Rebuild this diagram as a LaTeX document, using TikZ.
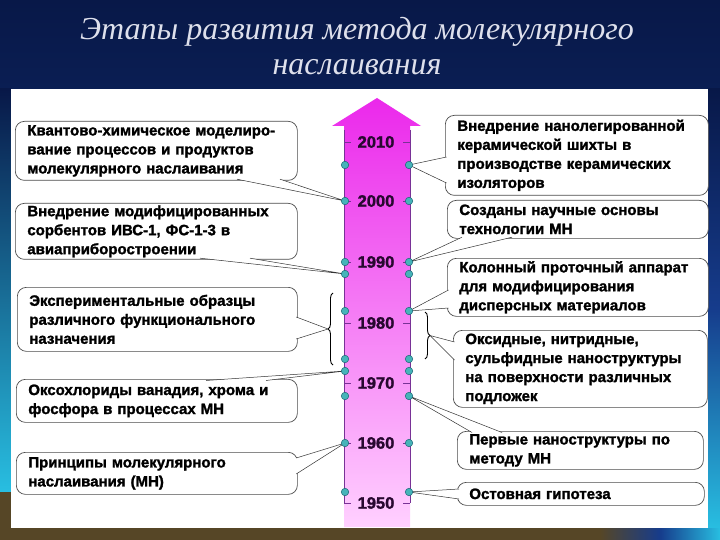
\documentclass[tikz,border=0pt]{standalone}
\usepackage{fontspec}
\usetikzlibrary{calc,decorations.pathreplacing}
\setmainfont{Liberation Sans}
\newfontfamily\boxfont{Liberation Sans}[BoldFeatures={FakeBold=1.6}]
\newfontfamily\yearfont{Liberation Sans}[BoldFeatures={FakeBold=1.6}]
\newfontfamily\titlefont{Liberation Serif}
\definecolor{navy}{RGB}{8,24,72}
\definecolor{bgmid}{RGB}{22,60,140}
\definecolor{bgcyan}{RGB}{40,190,225}
\definecolor{bgbrown}{RGB}{86,70,38}
\definecolor{titlegray}{RGB}{222,224,236}
\definecolor{magtop}{RGB}{235,40,235}
\definecolor{magbot}{RGB}{255,208,255}
\definecolor{axispurple}{RGB}{120,50,150}
\definecolor{yearink}{RGB}{40,8,48}
\definecolor{dotfill}{RGB}{70,180,185}
\definecolor{dotline}{RGB}{25,100,115}
\tikzset{
  infobox/.style={draw=black!70, line width=0.7pt, fill=white, rounded corners=9pt,
    anchor=north west, inner xsep=12pt, inner ysep=2pt, align=left,
    font=\boxfont\bfseries\fontsize{15}{19}\selectfont},
  dotnode/.style={circle, fill=dotfill, draw=dotline, line width=0.5pt, inner sep=0pt, minimum size=7.5pt},
  yearlabel/.style={font=\yearfont\bfseries\fontsize{16.5}{16.5}\selectfont, text=yearink, inner sep=0pt},
  tailline/.style={draw=black!80, line width=0.5pt},
  bracestyle/.style={draw=black, line width=0.9pt, decorate, decoration={brace, amplitude=5pt}}
}
\newcommand\calltail[3]{\fill[white] (#1) -- (#2) -- (#3) -- cycle; \draw[tailline] (#1) -- (#2) -- (#3);}
\begin{document}
\begin{tikzpicture}[x=1pt,y=-1pt]
\useasboundingbox (0,0) rectangle (720,540);
% background
\shade[top color=navy, bottom color=bgmid] (0,0) rectangle (720,540);
\shade[top color=navy, bottom color=bgcyan] (0,89) rectangle (11,492);
\fill[bgbrown] (0,492) rectangle (11,540);
\shade[top color=navy, bottom color=bgcyan, middle color=bgmid] (708,89) rectangle (720,528);
\fill[bgbrown] (0,528) rectangle (600,540);
\shade[left color=bgbrown, right color=bgcyan, middle color=bgmid] (600,528) rectangle (720,540);
% title
\node[font=\titlefont\itshape\fontsize{32}{36}\selectfont, text=titlegray, align=center, anchor=base] (title1) at (357,40) {Этапы развития метода молекулярного};
\node[font=\titlefont\itshape\fontsize{32}{36}\selectfont, text=titlegray, align=center, anchor=base] (title2) at (357,75) {наслаивания};
% panel
\fill[white] (11,89) rectangle (708,528);
% arrow
\shade[top color=magtop, bottom color=magbot]
  (344,527) -- (344,126) -- (332,126) -- (377,98) -- (421,126) -- (410,126) -- (410,527) -- cycle;
% boxes left
\node[infobox, text width=258pt, minimum height=59pt] (L1) at (15,121)
  {Квантово-химическое моделиро-\\вание процессов и продуктов\\молекулярного наслаивания};
\node[infobox, text width=258pt, minimum height=55pt] (L2) at (15,203)
  {Внедрение модифицированных\\сорбентов ИВС-1, ФС-1-3 в\\авиаприборостроении};
\node[infobox, text width=256pt, minimum height=64pt] (L3) at (17,287)
  {Экспериментальные образцы\\различного функционального\\назначения};
\node[infobox, text width=257pt, minimum height=43pt] (L4) at (16,379)
  {Оксохлориды ванадия, хрома и\\фосфора в процессах МН};
\node[infobox, text width=257pt, minimum height=42pt] (L5) at (16,452)
  {Принципы молекулярного\\наслаивания (МН)};
% boxes right
\node[infobox, text width=239pt, minimum height=80pt] (R1) at (445,115)
  {Внедрение нанолегированной\\керамической шихты в\\производстве керамических\\изоляторов};
\node[infobox, text width=237pt, minimum height=38pt] (R2) at (447,200)
  {Созданы научные основы\\технологии МН};
\node[infobox, text width=237pt, minimum height=58pt] (R3) at (447,258)
  {Колонный проточный аппарат\\для модифицирования\\дисперсных материалов};
\node[infobox, text width=230pt, minimum height=77pt] (R4) at (453,330)
  {Оксидные, нитридные,\\сульфидные наноструктуры\\на поверхности различных\\подложек};
\node[infobox, text width=222pt, minimum height=38pt] (R5) at (457,431)
  {Первые наноструктуры по\\методу МН};
\node[infobox, text width=223pt, minimum height=23pt] (R6) at (457,482)
  {Остовная гипотеза};
% axis lines and ticks
\draw[axispurple, line width=0.7pt] (344,130) -- (344,503);
\draw[axispurple, line width=0.7pt] (410,130) -- (410,503);
% year labels
\foreach \yr/\yy in {2010/142,2000/201,1990/262,1980/323,1970/383,1960/443,1950/503}{
  \node[yearlabel] (y\yr) at (376,\yy) {\yr};
  \draw[axispurple, line width=0.8pt] (344,\yy) -- (351,\yy);
  \draw[axispurple, line width=0.8pt] (403,\yy) -- (410,\yy);
}
% dots
\foreach \i/\yy in {1/165,2/201,3/262,4/274,5/311,6/359,7/371,8/396,9/443,10/492}{
  \coordinate (lp\i) at (345,\yy);
  \coordinate (rp\i) at (409,\yy);
}
% braces
\draw[bracestyle] (333,365) -- (333,293);
\coordinate (lbrace) at (328,329);
\draw[bracestyle] (425,312) -- (425,359);
\coordinate (rbrace) at (430,335.5);
% tails
\calltail{$(L1.south west)+(222,-1.5)$}{lp2}{$(L1.south west)+(265,-1.5)$}
\calltail{$(L2.south west)+(185,-1.5)$}{lp4}{$(L2.south west)+(235,-1.5)$}
\calltail{$(L3.north east)+(-1.5,30)$}{lbrace}{$(L3.north east)+(-1.5,52)$}
\calltail{$(L4.north west)+(190,1.5)$}{lp7}{$(L4.north west)+(250,1.5)$}
\calltail{$(L5.north east)+(-1.5,6)$}{lp9}{$(L5.north east)+(-1.5,22)$}
\calltail{$(R1.north west)+(1.5,42)$}{rp1}{$(R1.north west)+(1.5,68)$}
\calltail{$(R2.south west)+(15,-1.5)$}{rp3}{$(R2.south west)+(65,-1.5)$}
\calltail{$(R3.north west)+(1.5,32)$}{rp5}{$(R3.north west)+(1.5,50)$}
\calltail{$(R4.north west)+(1.5,12)$}{rbrace}{$(R4.north west)+(1.5,30)$}
\calltail{$(R5.north west)+(15,1.5)$}{rp8}{$(R5.north west)+(45,1.5)$}
\calltail{$(R6.north west)+(2,7)$}{rp10}{$(R6.north west)+(2,17)$}
\foreach \i in {1,...,10}{
  \node[dotnode] (ld\i) at (lp\i) {};
  \node[dotnode] (rd\i) at (rp\i) {};
}
\end{tikzpicture}
\end{document}
